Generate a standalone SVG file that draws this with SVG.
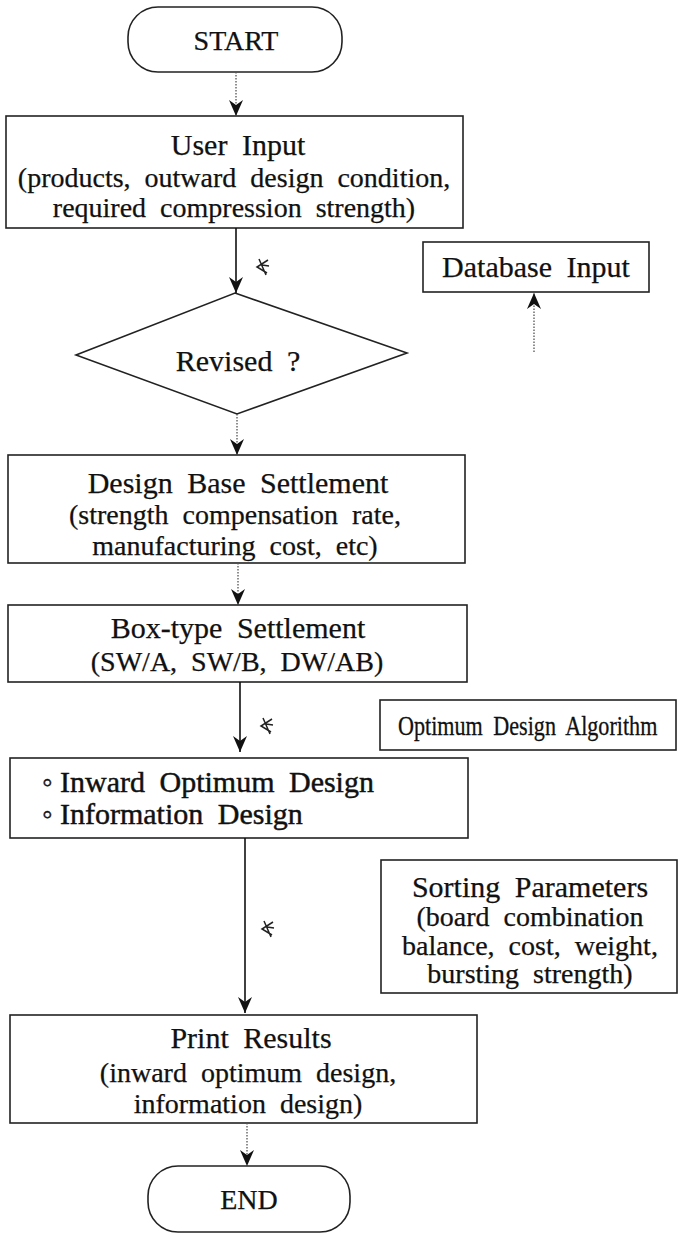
<svg xmlns="http://www.w3.org/2000/svg" width="678" height="1236" viewBox="0 0 678 1236">
<style>
  .box{fill:#fff;stroke:#222;stroke-width:1.6}
  .t{font-family:"Liberation Serif","Times New Roman",serif;font-size:28px;fill:#111;stroke:#111;stroke-width:0.25;text-anchor:middle;word-spacing:7px}
  .h{font-size:30px}
  .tl{font-family:"Liberation Serif","Times New Roman",serif;font-size:30px;fill:#111;stroke:#111;stroke-width:0.45;word-spacing:7px}
  .solid{stroke:#111;stroke-width:1.6;fill:none}
  .dot{stroke:#555;stroke-width:1.3;fill:none;stroke-dasharray:1.5 1.5}
  .mark{stroke:#222;stroke-width:1.5;fill:none}
</style>
<defs>
  <marker id="ah" viewBox="0 -8 16 16" refX="16" refY="0" markerWidth="16" markerHeight="16" markerUnits="userSpaceOnUse" orient="auto">
    <path d="M0,-7 L16,0 L0,7 L5,0 z" fill="#111"/>
  </marker>
</defs>

<g id="start">
  <rect class="box" x="128" y="7" width="214" height="65" rx="30"/>
  <text class="t" x="236" y="50">START</text>
</g>

<g id="user-input">
  <rect class="box" x="6" y="116" width="457" height="112"/>
  <text class="t h" x="238" y="155">User Input</text>
  <text class="t" x="234" y="187">(products, outward design condition,</text>
  <text class="t" x="234" y="217">required compression strength)</text>
</g>

<g id="database-input">
  <rect class="box" x="423" y="242" width="226" height="50"/>
  <text class="t h" x="536" y="277">Database Input</text>
</g>

<g id="revised">
  <polygon class="box" points="235,293 407,353 237,414 76,355"/>
  <text class="t h" x="238" y="371">Revised ?</text>
</g>

<g id="design-base">
  <rect class="box" x="8" y="455" width="457" height="108"/>
  <text class="t h" x="238" y="493">Design Base Settlement</text>
  <text class="t" x="235" y="524">(strength compensation rate,</text>
  <text class="t" x="235" y="555">manufacturing cost, etc)</text>
</g>

<g id="box-type">
  <rect class="box" x="8" y="605" width="459" height="77"/>
  <text class="t h" x="238" y="638">Box-type Settlement</text>
  <text class="t" x="237" y="671">(SW/A, SW/B, DW/AB)</text>
</g>

<g id="optimum-algorithm">
  <rect class="box" x="380" y="700" width="296" height="50"/>
  <text class="tl" style="font-size:27px;stroke-width:0.3;word-spacing:6px" transform="translate(398,735) scale(0.82,1)" x="0" y="0">Optimum Design Algorithm</text>
</g>

<g id="inward-design">
  <rect class="box" x="10" y="758" width="458" height="80"/>
  <text class="tl" y="792"><tspan x="42">◦</tspan><tspan x="60">Inward Optimum Design</tspan></text>
  <text class="tl" y="824"><tspan x="42">◦</tspan><tspan x="60">Information Design</tspan></text>
</g>

<g id="sorting-parameters">
  <rect class="box" x="381" y="860" width="296" height="133"/>
  <text class="t h" x="530" y="897">Sorting Parameters</text>
  <text class="t" x="530" y="926">(board combination</text>
  <text class="t" x="530" y="955">balance, cost, weight,</text>
  <text class="t" x="530" y="983">bursting strength)</text>
</g>

<g id="print-results">
  <rect class="box" x="10" y="1015" width="467" height="108"/>
  <text class="t h" x="251" y="1048">Print Results</text>
  <text class="t" x="248" y="1082">(inward optimum design,</text>
  <text class="t" x="248" y="1113">information design)</text>
</g>

<g id="end">
  <rect class="box" x="148" y="1166" width="202" height="66" rx="30"/>
  <text class="t" x="249" y="1209">END</text>
</g>

<g id="connectors">
  <line class="dot" x1="236" y1="72" x2="236" y2="116" marker-end="url(#ah)"/>
  <line class="solid" x1="236" y1="228" x2="236" y2="293" marker-end="url(#ah)"/>
  <line class="dot" x1="534" y1="352" x2="534" y2="293" marker-end="url(#ah)"/>
  <line class="dot" x1="237" y1="414" x2="237" y2="455" marker-end="url(#ah)"/>
  <line class="dot" x1="238" y1="563" x2="238" y2="605" marker-end="url(#ah)"/>
  <line class="solid" x1="240" y1="682" x2="240" y2="752" marker-end="url(#ah)"/>
  <line class="solid" x1="245" y1="838" x2="245" y2="1013" marker-end="url(#ah)"/>
  <line class="dot" x1="247" y1="1123" x2="247" y2="1166" marker-end="url(#ah)"/>
  <path class="mark" d="M268,260 L257,267 L267,273 M259,259 L266,275 M262,265 L269,266"/>
  <path class="mark" d="M272,719 L261,726 L271,732 M263,718 L270,734 M266,724 L273,725"/>
  <path class="mark" d="M273,922 L262,929 L272,935 M264,921 L271,937 M267,927 L274,928"/>
</g>
</svg>
